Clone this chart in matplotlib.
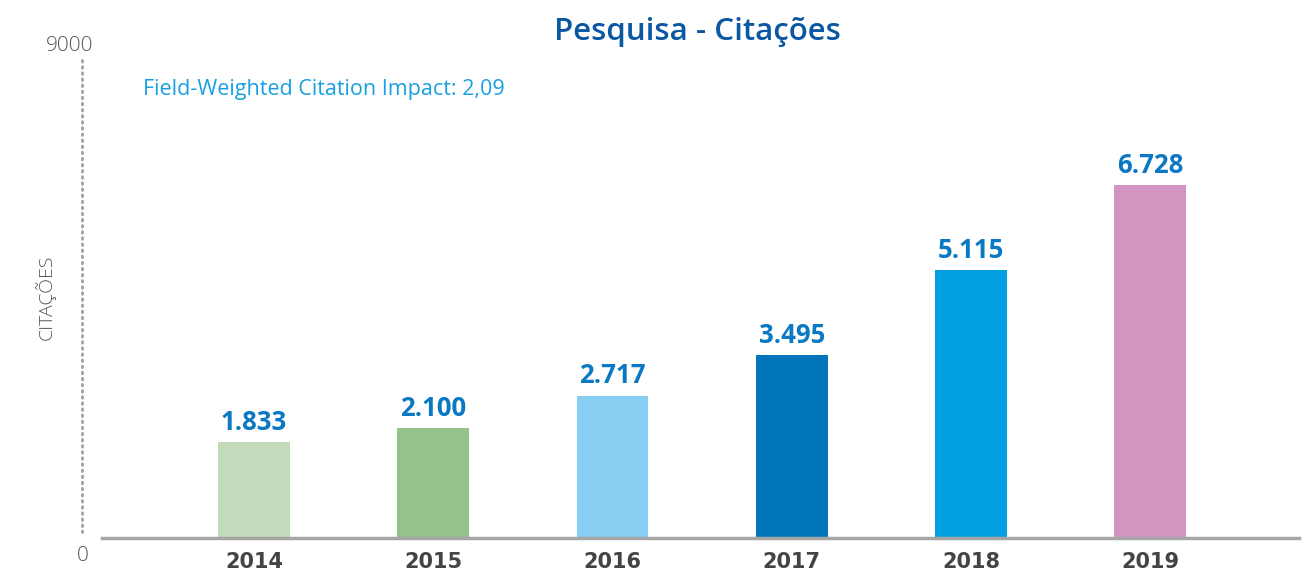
import matplotlib.pyplot as plt

# Citações por ano
anos = ['2014', '2015', '2016', '2017', '2018', '2019']
citacoes = [1833, 2100, 2717, 3495, 5115, 6728]
rotulos = ['1.833', '2.100', '2.717', '3.495', '5.115', '6.728']
cores = ['#c2dcbb', '#93c38a', '#86cff3', '#0075bc', '#009fe0', '#d295c2']

plt.rcParams['font.family'] = ['Open Sans', 'DejaVu Sans']

fig = plt.figure(figsize=(13.03, 5.71), dpi=100)
W, H = 1303, 571
# eixo: x de 102 a 1299 px, y de 66 (9000) a 538 (0)
ax = fig.add_axes([102 / W, 1 - 538 / H, (1299 - 102) / W, (538 - 66) / H])

x = list(range(len(anos)))
ax.bar(x, citacoes, width=0.4, color=cores, zorder=2)

for xi, v, txt in zip(x, citacoes, rotulos):
    ax.text(xi, v + 230, txt, ha='center', va='baseline', fontsize=18.5,
            fontweight='bold', color='#0a78c2')

ax.set_xlim(-0.848, 5.83)
ax.set_ylim(0, 9000)
ax.set_xticks(x)
ax.set_xticklabels(anos, fontsize=15, fontweight='bold', color='#444444',
                   family='DejaVu Sans')
ax.tick_params(axis='x', length=0, pad=10)
ax.set_yticks([])

for s in ['top', 'right', 'left']:
    ax.spines[s].set_visible(False)
ax.spines['bottom'].set_color('#a6a6a6')
ax.spines['bottom'].set_linewidth(2.5)

# eixo vertical pontilhado
fig.add_artist(plt.Line2D([81.5 / W, 81.5 / W], [1 - 60 / H, 1 - 532 / H],
                          color='#a0a0a0', linestyle=(0, (0.6, 1.6)),
                          linewidth=2, dash_capstyle='round'))

fig.text(70 / W, 1 - 46 / H, '9000', ha='center', va='center', fontsize=15,
         color='#555555', fontweight='light')
fig.text(83 / W, 1 - 556 / H, '0', ha='center', va='center', fontsize=15,
         color='#555555', fontweight='light')
fig.text(45 / W, 1 - 297 / H, 'CITAÇÕES', ha='center', va='center', rotation=90,
         fontsize=14, color='#555555', fontweight='light')

fig.text(697 / W, 1 - 32 / H, 'Pesquisa - Citações', ha='center', va='center',
         fontsize=22.5, fontweight='semibold', color='#0a57a3')
fig.text(143 / W, 1 - 90 / H, 'Field-Weighted Citation Impact: 2,09', ha='left',
         va='center', fontsize=15.5, color='#1aa0e0')

fig.savefig('out.png', dpi=100)
